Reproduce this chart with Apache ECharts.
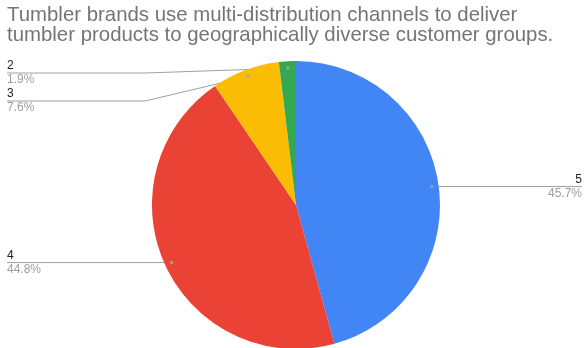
<!DOCTYPE html>
<html>
<head>
<meta charset="utf-8">
<script src="https://cdn.jsdelivr.net/npm/echarts@6/dist/echarts.min.js"></script>
<style>
  html, body { margin: 0; padding: 0; background: #fff; }
  #chart { width: 585px; height: 348px; }
</style>
</head>
<body>
<div id="chart"></div>
<script>
// Survey answers (rating) and their share of responses, in percent
const categories = ['5', '4', '3', '2'];
const shares = [45.7, 44.8, 7.6, 1.9];
const titleLines = [
  'Tumbler brands use multi-distribution channels to deliver',
  'tumbler products to geographically diverse customer groups.'
];

const palette = ['#4285F4', '#EA4335', '#FBBC04', '#34A853'];

// Pie geometry (absolute pixels) and the box used for label placement
const CX = 296, CY = 205, R = 144;
const VIEW = { left: 4, top: 59, width: 581, height: 289 };
const DOT = 0.952; // leader lines start slightly inside the slice edge

const total = shares.reduce((a, b) => a + b, 0);
// angle (in value units) at the middle of each slice, for the leader-line dots
const midValues = [];
shares.reduce((acc, v) => { midValues.push(acc + v / 2); return acc + v; }, 0);

const chart = echarts.init(document.getElementById('chart'), null, { renderer: 'canvas' });

chart.setOption({
  animation: false,
  backgroundColor: '#ffffff',
  title: {
    text: titleLines.join('\n'),
    left: 7,
    top: 5,
    padding: 0,
    textStyle: {
      fontFamily: 'Liberation Sans, Arial, sans-serif',
      fontSize: 20.4,
      fontWeight: 'normal',
      color: '#757575',
      lineHeight: 20
    }
  },
  polar: { center: [CX, CY], radius: R },
  angleAxis: { type: 'value', min: 0, max: total, startAngle: 90, clockwise: true, show: false },
  radiusAxis: { type: 'value', min: 0, max: 1, show: false },
  series: [
    {
      type: 'pie',
      left: VIEW.left,
      top: VIEW.top,
      width: VIEW.width,
      height: VIEW.height,
      center: [CX - VIEW.left, CY - VIEW.top],
      radius: R,
      startAngle: 90,
      clockwise: true,
      avoidLabelOverlap: true,
      color: palette,
      itemStyle: { borderWidth: 0 },
      emphasis: { disabled: true },
      data: categories.map((c, i) => ({ name: c, value: shares[i] })),
      label: {
        show: true,
        position: 'outside',
        alignTo: 'edge',
        edgeDistance: 3,
        fontFamily: 'Liberation Sans, Arial, sans-serif',
        formatter: p => '{n|' + p.name + '}\n{p|' + p.value.toFixed(1) + '%}',
        rich: {
          n: { fontSize: 12, lineHeight: 14, color: '#222222', fontFamily: 'Liberation Sans, Arial, sans-serif' },
          p: { fontSize: 12, lineHeight: 14, color: '#9e9e9e', fontFamily: 'Liberation Sans, Arial, sans-serif' }
        }
      },
      labelLine: {
        show: true,
        length: -(R * (1 - DOT)),
        length2: 10,
        lineStyle: { color: '#a0a0a0', width: 1 }
      },
      labelLayout: function (params) {
        const pts = params.labelLinePoints;
        if (!pts) return {};
        const r = params.labelRect;
        const y = r.y + r.height / 2;
        const e = pts[0];
        const dot = [CX + (e[0] - CX) * DOT, CY + (e[1] - CY) * DOT];
        const onLeft = e[0] < CX;
        const bendX = onLeft ? CX - R - 7 : CX + R + 7;
        const endX = onLeft ? r.x : r.x + r.width;
        return { labelLinePoints: [dot, [bendX, y], [endX, y]] };
      }
    },
    {
      type: 'scatter',
      coordinateSystem: 'polar',
      symbol: 'circle',
      symbolSize: 3.5,
      silent: true,
      z: 5,
      itemStyle: { color: '#a8a8a8' },
      data: midValues.map(m => [DOT, m])
    }
  ]
});
</script>
</body>
</html>
